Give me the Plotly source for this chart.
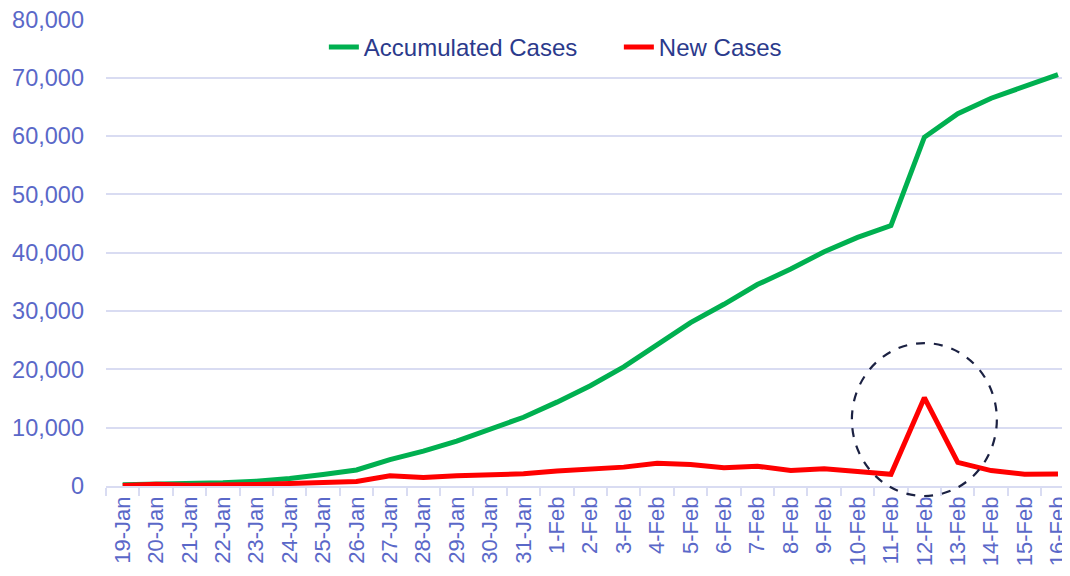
import plotly.graph_objects as go

dates = ["19-Jan","20-Jan","21-Jan","22-Jan","23-Jan","24-Jan","25-Jan","26-Jan","27-Jan","28-Jan",
         "29-Jan","30-Jan","31-Jan","1-Feb","2-Feb","3-Feb","4-Feb","5-Feb","6-Feb","7-Feb",
         "8-Feb","9-Feb","10-Feb","11-Feb","12-Feb","13-Feb","14-Feb","15-Feb","16-Feb"]
accumulated = [198, 291, 440, 571, 830, 1287, 1975, 2744, 4515, 5974,
               7711, 9692, 11791, 14380, 17205, 20438, 24324, 28018, 31161, 34546,
               37198, 40171, 42638, 44653, 59804, 63851, 66492, 68500, 70548]
new_cases = [77, 293, 149, 131, 259, 444, 688, 769, 1771, 1459,
             1737, 1982, 2102, 2590, 2829, 3235, 3887, 3694, 3143, 3385,
             2652, 2973, 2467, 2015, 15152, 4047, 2641, 2009, 2048]
y_ticks = [0, 10000, 20000, 30000, 40000, 50000, 60000, 70000, 80000]

FONT = "Liberation Sans, Arial, sans-serif"
TICK_COLOR = "#5A68C8"
GRID = "#D9DCF2"

fig = go.Figure()
fig.add_trace(go.Scatter(x=dates, y=accumulated, mode="lines",
                         name="Accumulated Cases", line=dict(color="#00B050", width=5)))
fig.add_trace(go.Scatter(x=dates, y=new_cases, mode="lines",
                         name="New Cases", line=dict(color="#FF0000", width=5)))

# dashed highlight circle around the 12-Feb spike (paper y so it is not clipped at the axis)
fig.add_shape(type="circle", xref="x", yref="paper", x0=21.83, x1=26.17, y0=-0.0214, y1=0.306,
              line=dict(color="#1B2142", width=2.2, dash="dash"))

fig.update_layout(
    width=1062, height=568,
    margin=dict(l=98, r=0, t=11, b=90, autoexpand=False),
    paper_bgcolor="white", plot_bgcolor="white",
    font=dict(family=FONT),
    showlegend=True,
    legend=dict(orientation="h", x=0.226, xanchor="left", y=0.939, yanchor="middle",
                font=dict(size=24, color="#2B3A8C", family=FONT),
                entrywidth=250, entrywidthmode="pixels",
                bgcolor="rgba(255,255,255,0)", tracegroupgap=0),
    xaxis=dict(
        type="category", categoryorder="array", categoryarray=dates,
        range=[-0.5, 28.36], tickangle=-90, automargin=False,
        ticklabeloverflow="allow",
        tickfont=dict(size=22, color=TICK_COLOR, family=FONT),
        showgrid=False, showline=True, linecolor=GRID, linewidth=1.5,
        ticks="outside", tickson="boundaries", ticklen=8, tickwidth=1.5, tickcolor=GRID,
        zeroline=False,
    ),
    yaxis=dict(
        range=[0, 80080], tickvals=y_ticks, tickformat=",d", automargin=False,
        ticklabeloverflow="allow",
        tickfont=dict(size=23.5, color=TICK_COLOR, family=FONT),
        showgrid=True, gridcolor=GRID, gridwidth=1.5,
        zeroline=False, showline=False, ticklabelstandoff=21,
    ),
)

fig.write_html("out.html")
